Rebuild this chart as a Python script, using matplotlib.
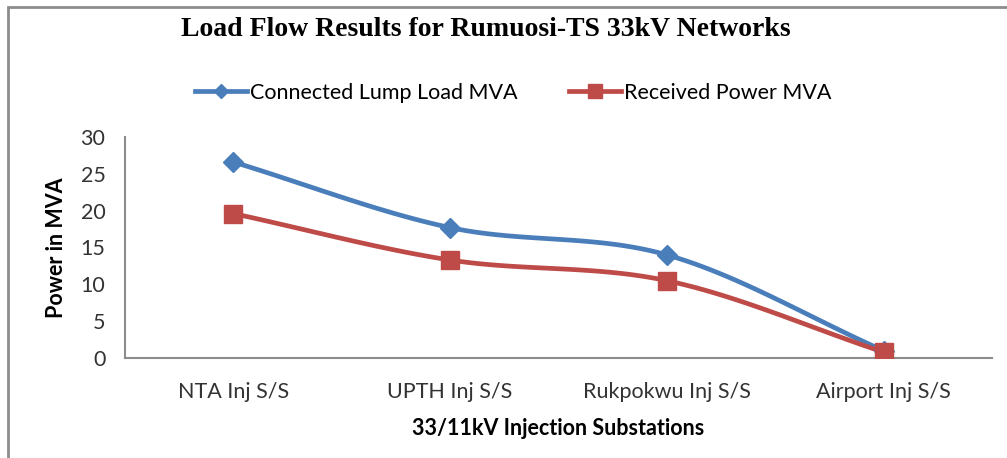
import numpy as np
import matplotlib
matplotlib.use("Agg")
import matplotlib.pyplot as plt
from matplotlib.patches import Rectangle

categories = ["NTA Inj S/S", "UPTH Inj S/S", "Rukpokwu Inj S/S", "Airport Inj S/S"]
connected_load = [26.6, 17.7, 14.0, 1.0]
received_power = [19.6, 13.3, 10.5, 0.8]
yticks = [0, 5, 10, 15, 20, 25, 30]

title = "Load Flow Results for Rumuosi-TS 33kV Networks"
xlabel = "33/11kV Injection Substations"
ylabel = "Power in MVA"

BLUE = "#4A7EBB"
RED = "#BE4B48"
FONT = "Lato"
FS = 15.5


def smooth(xs, ys, n=40):
    # Catmull-Rom style smoothing (like Excel's smoothed line), drawing only
    xs = np.asarray(xs, float)
    ys = np.asarray(ys, float)
    px = np.concatenate([[2 * xs[0] - xs[1]], xs, [2 * xs[-1] - xs[-2]]])
    py = np.concatenate([[2 * ys[0] - ys[1]], ys, [2 * ys[-1] - ys[-2]]])
    ox, oy = [], []
    for i in range(1, len(px) - 2):
        t = np.linspace(0, 1, n)
        for arr, out in ((px, ox), (py, oy)):
            p0, p1, p2, p3 = arr[i - 1], arr[i], arr[i + 1], arr[i + 2]
            c1 = p1 + (p2 - p0) / 6
            c2 = p2 - (p3 - p1) / 6
            out.extend((1 - t) ** 3 * p1 + 3 * (1 - t) ** 2 * t * c1
                       + 3 * (1 - t) * t ** 2 * c2 + t ** 3 * p2)
    return np.array(ox), np.array(oy)


fig = plt.figure(figsize=(10.07, 4.58), dpi=100)
fig.patches.append(Rectangle((0.008, -0.05), 1.1, 1.035, transform=fig.transFigure,
                             fill=False, edgecolor="#8c8c8c", linewidth=2.0))

ax = fig.add_axes([0.124, 0.2183, 0.861, 0.4827])
x = np.arange(len(categories)) + 0.5

for vals, col, mk, ms, lab in ((connected_load, BLUE, "D", 10, "Connected Lump Load MVA"),
                                (received_power, RED, "s", 13.5, "Received Power MVA")):
    sx, sy = smooth(x, vals)
    ax.plot(sx, sy, color=col, lw=3.4, solid_capstyle="round", zorder=3)
    ax.plot(x, vals, linestyle="none", marker=mk, markersize=ms, color=col, zorder=4)
    ax.plot([], [], color=col, lw=3.4, marker=mk, markersize=ms * 0.75, label=lab)

ax.set_xlim(0, len(categories))
ax.set_ylim(0, 30)
ax.set_yticks(yticks)
ax.set_xticks(x)
ax.set_xticklabels(categories, fontsize=FS, family=FONT)
for t in ax.get_yticklabels():
    t.set_fontsize(FS)
    t.set_family(FONT)
ax.tick_params(length=0, pad=14, colors="#333333")
ax.tick_params(axis="x", pad=17)
for s in ("top", "right"):
    ax.spines[s].set_visible(False)
for s in ("left", "bottom"):
    ax.spines[s].set_color("#8c8c8c")
    ax.spines[s].set_linewidth(1.5)

ax.set_xlabel(xlabel, fontsize=FS, fontweight="bold", family=FONT, labelpad=12)
ax.set_ylabel(ylabel, fontsize=FS, fontweight="bold", family=FONT, labelpad=10)

fig.text(0.482, 0.936, title, ha="center", va="center", fontsize=20,
         fontweight="bold", family="Liberation Serif")

leg = fig.legend(loc="center", bbox_to_anchor=(0.51, 0.798), ncol=2, frameon=False,
                 prop={"family": FONT, "size": FS}, handlelength=2.4, columnspacing=2.4,
                 handletextpad=0.15)

fig.savefig("out.png", dpi=100)
